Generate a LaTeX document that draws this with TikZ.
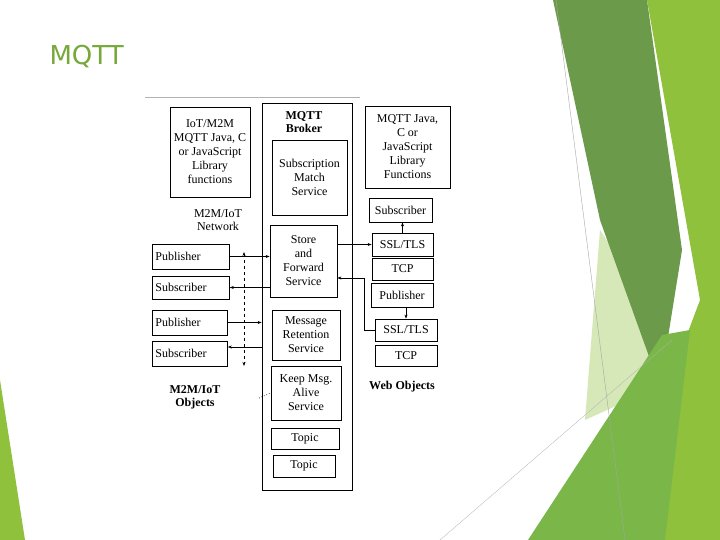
\documentclass[tikz,border=0pt]{standalone}
\usepackage{fontspec}
\setmainfont{Liberation Serif}
\newfontfamily\titlefont{DejaVu Sans}
\usetikzlibrary{arrows.meta}
\definecolor{gA}{RGB}{143,193,60}
\definecolor{gB}{RGB}{214,232,184}
\definecolor{gC}{RGB}{107,154,74}
\definecolor{gD}{RGB}{122,182,72}
\definecolor{gT}{RGB}{118,168,58}
\begin{document}
\begin{tikzpicture}[x=1pt,y=-1pt,
  bx/.style={draw,line width=0.8pt,align=center,font=\fontsize{12}{14}\selectfont,inner sep=1pt},
  lbx/.style={draw,line width=0.8pt,align=left,font=\fontsize{12}{14}\selectfont,inner xsep=3pt,inner ysep=1pt,anchor=west},
  lb/.style={align=center,font=\fontsize{12}{13}\selectfont},
  blb/.style={align=center,font=\bfseries\fontsize{12}{13}\selectfont},
  ar/.style={-{Stealth[length=4pt,width=3pt]},line width=0.6pt}]
\useasboundingbox (0,0) rectangle (720,540);
\fill[white] (0,0) rectangle (720,540);
% decoration
\fill[gA] (0,380) -- (25,540) -- (0,540) -- cycle;
\fill[gA] (647,0) -- (720,0) -- (720,540) -- (610,540) -- (700,300) -- cycle;
\fill[gB] (600,230) -- (665,330) -- (640,395) -- (585,420) -- cycle;
\fill[gC] (553,0) -- (647,0) -- (682,250) -- (660,387) -- (600,220) -- cycle;
\fill[gD] (528,540) -- (662,335) -- (690,330) -- (665,540) -- cycle;
\draw[gray!70,line width=0.4pt] (556,0) -- (625,540);
\draw[gray!60,line width=0.3pt] (440,540) -- (672,340);
\node[font=\titlefont\fontsize{26}{28}\selectfont,text=gT,anchor=west] (title) at (46,57) {MQTT};
% diagram
\draw[gray!60,line width=0.6pt] (145,97) -- (360,97);
\node[bx,minimum width=80,minimum height=90] (lib) at (210,152) {IoT/M2M\\MQTT Java, C\\or JavaScript\\Library\\functions};
\node[draw,line width=0.8pt,minimum width=90,minimum height=387] (broker) at (307,296.5) {};
\node[blb] (bt) at (304,122) {MQTT\\Broker};
\node[bx,minimum width=75,minimum height=75] (sub) at (309.5,177.5) {Subscription\\Match\\Service};
\node[bx,minimum width=85,minimum height=82] (rlib) at (407.5,147) {MQTT Java,\\C or\\JavaScript\\Library\\Functions};
\node[bx,minimum width=63,minimum height=24] (rs) at (400.5,210) {Subscriber};
\node[bx,minimum width=61,minimum height=23] (ssl1) at (402.5,244.5) {SSL/TLS};
\node[bx,minimum width=61,minimum height=22] (tcp1) at (402.5,269) {TCP};
\node[bx,minimum width=62,minimum height=24] (rp) at (402,295) {Publisher};
\node[bx,minimum width=62,minimum height=22] (ssl2) at (406,330) {SSL/TLS};
\node[bx,minimum width=62,minimum height=21] (tcp2) at (406,355.5) {TCP};
\node[blb] (wo) at (402,387) {Web Objects};
\node[lb] (net) at (218,220) {M2M/IoT\\Network};
\node[bx,minimum width=67,minimum height=72] (sf) at (303.5,261) {Store\\and\\Forward\\Service};
\node[lbx,text width=71,minimum height=25] (lp1) at (152,256.5) {Publisher};
\node[lbx,text width=71,minimum height=23] (ls1) at (152,287.5) {Subscriber};
\node[lbx,text width=69,minimum height=25] (lp2) at (152,322.5) {Publisher};
\node[lbx,text width=69,minimum height=25] (ls2) at (152,353.5) {Subscriber};
\node[bx,minimum width=68,minimum height=50] (mr) at (306,335) {Message\\Retention\\Service};
\node[bx,minimum width=70,minimum height=54] (ka) at (306,393) {Keep Msg.\\Alive\\Service};
\node[bx,minimum width=68,minimum height=21] (t1) at (305,438.5) {Topic};
\node[bx,minimum width=62,minimum height=22] (t2) at (304,466) {Topic};
\node[blb] (mo) at (195,397) {M2M/IoT\\Objects};
% connectors
\coordinate (d1) at (244,252); \coordinate (d2) at (244,366);
\draw[dashed,line width=0.6pt,{Stealth[length=4pt,width=3pt]}-{Stealth[length=4pt,width=3pt]}] (d1) -- (d2);
\coordinate (dots) at (259,398);
\draw[dotted,line width=0.7pt] (dots) -- (ka.west);
\draw[ar] (lp1.east) -- (lp1.east -| sf.west);
\draw[ar] (ls1.east -| sf.west) -- (ls1.east);
\draw[ar] (sf.east |- ssl1.west) -- (ssl1.west);
\draw[ar] (ssl1.north) -- (ssl1.north |- rs.south);
\draw[ar] (ssl2.west) -| (364,278) -- (sf.east |- 0,278);
\draw[ar] (rp.south -| ssl2.north) -- (ssl2.north);
\draw[ar] (lp2.east) -- (lp2.east -| broker.west);
\draw[ar] (broker.west |- 0,347) -- (ls2.east |- 0,347);
\end{tikzpicture}
\end{document}
